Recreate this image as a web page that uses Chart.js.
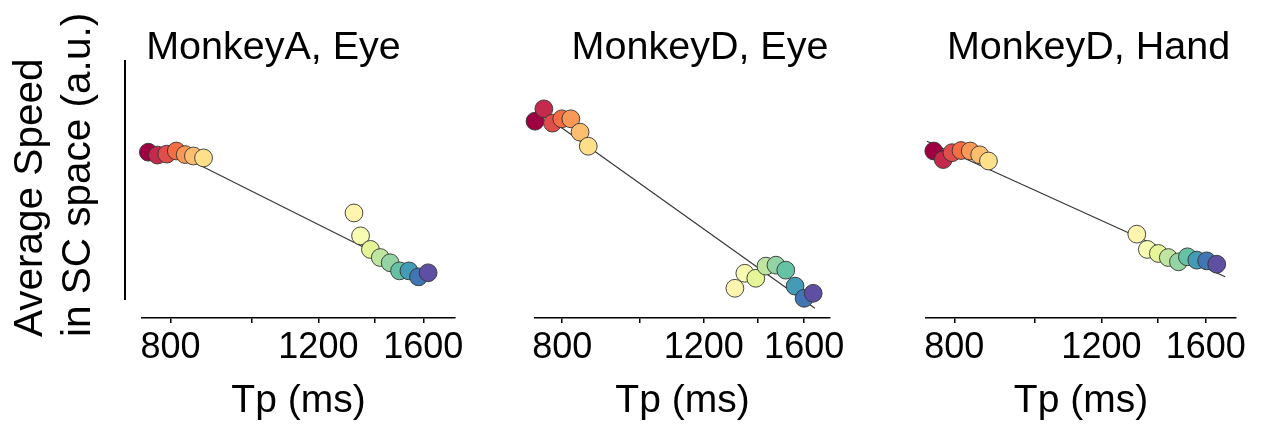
<!DOCTYPE html>
<html>
<head>
<meta charset="utf-8">
<script src="https://cdn.jsdelivr.net/npm/chart.js@4.4.1/dist/chart.umd.min.js"></script>
<style>
  html, body { margin: 0; padding: 0; background: #fff; overflow: hidden; }
  #fig { position: relative; width: 1262px; height: 425px; }
  #fig canvas { position: absolute; top: 0; }
</style>
</head>
<body>
<div id="fig">
  <canvas id="panelA" width="547" height="425" style="left:0px"></canvas>
  <canvas id="panelDEye" width="440" height="425" style="left:480px"></canvas>
  <canvas id="panelDHand" width="347" height="425" style="left:915px"></canvas>
</div>
<script>
// ---- data -------------------------------------------------------------
const panelTitles = ['MonkeyA, Eye', 'MonkeyD, Eye', 'MonkeyD, Hand'];
const xAxisTitle = 'Tp (ms)';
const yAxisTitle = ['Average Speed', 'in SC space (a.u.)'];

const tickValues = [800, 1000, 1200, 1400, 1600];
const tickLabels = ['800', '', '1200', '', '1600'];

// Monkey A, eye
const tpAEye    = [753, 772, 792, 813, 833, 852, 876, 1323, 1347, 1384, 1422, 1461, 1499, 1538, 1579, 1621];
const speedAEye = [0.616, 0.604, 0.608, 0.621, 0.606, 0.600, 0.592, 0.361, 0.265, 0.208, 0.174, 0.152, 0.118, 0.118, 0.093, 0.110];
const fitTpAEye    = [844, 1621];
const fitSpeedAEye = [0.582, 0.082];

// Monkey D, eye
const tpDEye    = [740, 759, 778, 799, 820, 842, 862, 1312, 1350, 1393, 1434, 1476, 1518, 1559, 1600, 1642];
const speedDEye = [0.746, 0.798, 0.738, 0.756, 0.756, 0.700, 0.641, 0.045, 0.108, 0.087, 0.138, 0.142, 0.121, 0.054, 0.003, 0.024];
const fitTpDEye    = [790, 1650];
const fitSpeedDEye = [0.730, -0.039];

// Monkey D, hand
const tpDHand    = [756, 776, 795, 815, 836, 858, 879, 1323, 1362, 1404, 1443, 1484, 1521, 1561, 1604, 1649];
const speedDHand = [0.621, 0.585, 0.614, 0.623, 0.621, 0.605, 0.579, 0.272, 0.208, 0.191, 0.174, 0.156, 0.177, 0.163, 0.160, 0.146];
const fitTpDHand    = [742, 1688];
const fitSpeedDHand = [0.662, 0.093];

// ---- styling ----------------------------------------------------------
// Spectral palette, one colour per Tp condition (short -> long)
const spectral = [
  '#9e0142', '#c32a4b', '#df4e4b', '#f46d43', '#fa9857', '#fdbf6f', '#fee08b', '#fff5ae',
  '#f7fcb2', '#e6f598', '#bfe5a0', '#94d4a4', '#66c2a5', '#439bb5', '#4175b4', '#5e4fa2'
];
const FONT = '"Liberation Sans", Arial, Helvetica, sans-serif';
Chart.defaults.font.family = FONT;
Chart.defaults.color = '#000';

// canvas-level layout of each panel (widths of the spacer scales around the plot area)
const panelLayouts = [
  { yOuter: 125, yInner: 17, right: 92, showY: true,  xMax: 1745 },
  { yOuter: 38,  yInner: 17, right: 90, showY: false, xMax: 1723 },
  { yOuter: 0,   yInner: 11, right: 26, showY: false, xMax: 1739 }
];

const hidden = { ticks: { display: false }, grid: { display: false }, border: { display: false } };

// rotated two-line label for the shared speed axis
const speedLabel = {
  id: 'speedLabel',
  afterDraw(chart) {
    const ctx = chart.ctx;
    const base = chart.chartArea.bottom + 38;
    ctx.save();
    ctx.font = '40.5px ' + FONT;
    ctx.fillStyle = '#000';
    ctx.textAlign = 'left';
    ctx.textBaseline = 'alphabetic';
    yAxisTitle.forEach((line, i) => {
      ctx.save();
      ctx.translate(42 + 48 * i, base);
      ctx.rotate(-Math.PI / 2);
      ctx.fillText(line, 0, 0);
      ctx.restore();
    });
    ctx.restore();
  }
};

function makePanel(canvasId, layout, title, tp, speed, fitTp, fitSpeed, extraPlugins) {
  const points = tp.map((t, i) => ({ x: t, y: speed[i] }));
  const fit = fitTp.map((t, i) => ({ x: t, y: fitSpeed[i] }));
  return new Chart(document.getElementById(canvasId), {
    type: 'scatter',
    data: {
      datasets: [
        {
          data: points,
          pointRadius: 8.9, pointHoverRadius: 8.9,
          pointBackgroundColor: spectral,
          pointBorderColor: '#333',
          pointBorderWidth: 0.9,
          order: 1, clip: false
        },
        {
          data: fit,
          showLine: true,
          borderColor: '#333', borderWidth: 1.1,
          pointRadius: 0, pointHoverRadius: 0,
          order: 2, clip: false
        }
      ]
    },
    options: {
      responsive: false,
      animation: false,
      events: [],
      layout: { padding: 0 },
      plugins: {
        legend: { display: false },
        tooltip: { enabled: false },
        title: {
          display: true, text: title, color: '#000',
          font: { size: 39.5, weight: 'normal', lineHeight: 0.65 },
          padding: { top: 35, bottom: 0 }
        }
      },
      scales: {
        x: {
          type: 'logarithmic', position: 'bottom', weight: 1,
          min: 740, max: layout.xMax,
          afterBuildTicks: s => { s.ticks = tickValues.map(v => ({ value: v })); },
          afterFit: s => { s.height = 107; },
          ticks: {
            autoSkip: false, maxRotation: 0, minRotation: 0, color: '#000',
            font: { size: 36 }, padding: 3,
            callback: (v, i) => tickLabels[i]
          },
          grid: { display: true, drawOnChartArea: false, drawTicks: true, tickLength: 5, color: '#000', lineWidth: 1.5 },
          border: { display: true, color: '#000', width: 1.5 },
          title: { display: true, text: xAxisTitle, color: '#000', font: { size: 39 }, padding: { top: 0, bottom: 0 } }
        },
        xGap: {
          axis: 'x', type: 'linear', position: 'bottom', weight: 0, min: 0, max: 1,
          afterFit: s => { s.height = 19; }, ...hidden
        },
        y: {
          type: 'linear', position: 'left', weight: 1, min: 0, max: 1,
          afterFit: s => { s.width = layout.yOuter; },
          ticks: { display: false }, grid: { display: false },
          border: { display: layout.showY, color: '#000', width: 2 }
        },
        yGap: {
          axis: 'y', type: 'linear', position: 'left', weight: 0, min: 0, max: 1,
          afterFit: s => { s.width = layout.yInner; }, ...hidden
        },
        yRight: {
          axis: 'y', type: 'linear', position: 'right', min: 0, max: 1,
          afterFit: s => { s.width = layout.right; }, ...hidden
        }
      }
    },
    plugins: extraPlugins || []
  });
}

makePanel('panelA', panelLayouts[0], panelTitles[0], tpAEye, speedAEye, fitTpAEye, fitSpeedAEye, [speedLabel]);
makePanel('panelDEye', panelLayouts[1], panelTitles[1], tpDEye, speedDEye, fitTpDEye, fitSpeedDEye);
makePanel('panelDHand', panelLayouts[2], panelTitles[2], tpDHand, speedDHand, fitTpDHand, fitSpeedDHand);
</script>
</body>
</html>
